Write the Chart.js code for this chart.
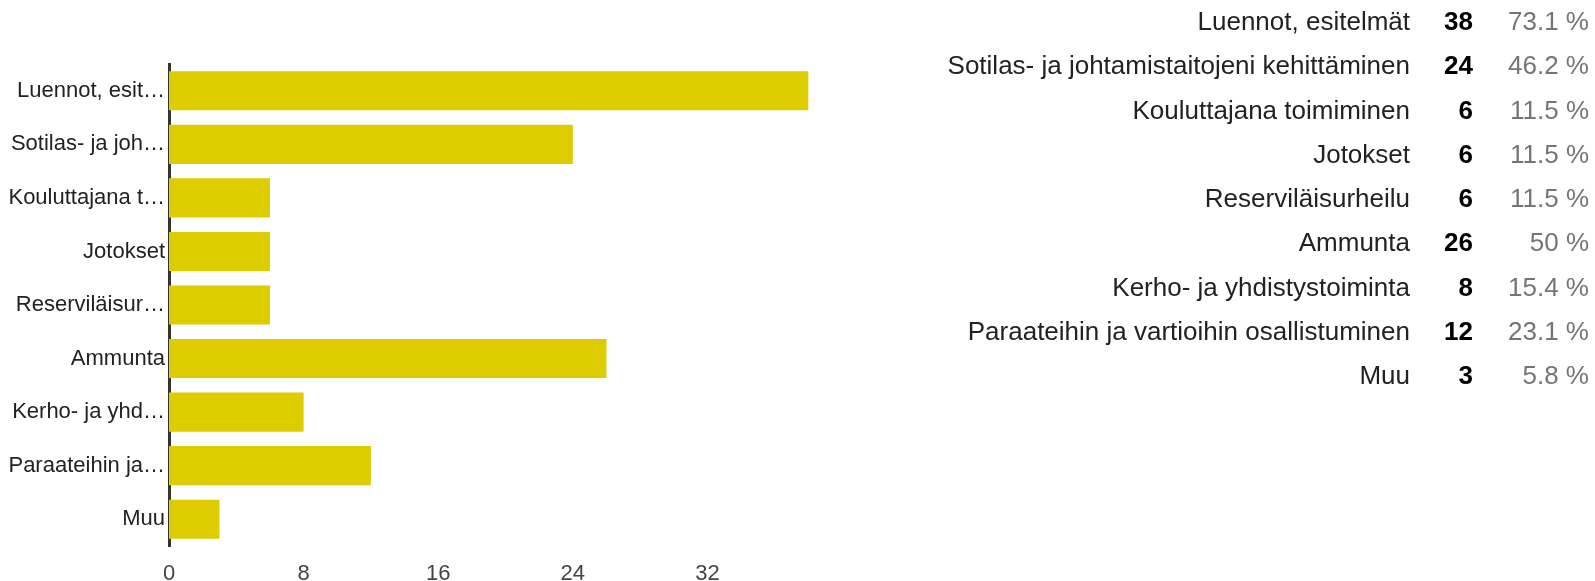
<!DOCTYPE html>
<html>
<head>
<meta charset="utf-8">
<script src="https://cdn.jsdelivr.net/npm/chart.js@4"></script>
<style>
  body { margin: 0; background: #fff; font-family: "Liberation Sans", Arial, sans-serif; overflow: hidden; }
  #wrap { position: absolute; left: 0; top: 0; width: 842px; height: 581px; }
  #taulu { position: absolute; left: 0; top: -1px; width: 1595px; }
  .rivi { position: relative; height: 44.25px; line-height: 44.25px; font-size: 26px; }
  .rivi span { position: absolute; white-space: nowrap; }
  .nimi { right: 185px; color: #222; }
  .lkm { right: 122px; color: #000; font-weight: bold; }
  .pros { right: 6px; color: #757575; }
</style>
</head>
<body>
<div id="wrap"><canvas id="kaavio"></canvas></div>
<div id="taulu"></div>
<script>
// vastaukset
var kategoriat = ["Luennot, esitelmät", "Sotilas- ja johtamistaitojeni kehittäminen", "Kouluttajana toimiminen", "Jotokset", "Reserviläisurheilu", "Ammunta", "Kerho- ja yhdistystoiminta", "Paraateihin ja vartioihin osallistuminen", "Muu"];
var akseliNimet = ["Luennot, esit…", "Sotilas- ja joh…", "Kouluttajana t…", "Jotokset", "Reserviläisur…", "Ammunta", "Kerho- ja yhd…", "Paraateihin ja…", "Muu"];
var maarat = [38, 24, 6, 6, 6, 26, 8, 12, 3];
var prosentit = ["73.1 %", "46.2 %", "11.5 %", "11.5 %", "11.5 %", "50 %", "15.4 %", "23.1 %", "5.8 %"];
var xTikit = [0, 8, 16, 24, 32];

// taulukko oikealla
var taulu = document.getElementById("taulu");
for (var i = 0; i < kategoriat.length; i++) {
	var r = document.createElement("div");
	r.className = "rivi";
	r.innerHTML = '<span class="nimi"></span><span class="lkm"></span><span class="pros"></span>';
	r.children[0].textContent = kategoriat[i];
	r.children[1].textContent = maarat[i];
	r.children[2].textContent = prosentit[i];
	taulu.appendChild(r);
}

var ctx = document.getElementById("kaavio");
var kaavio = new Chart(ctx, {
	type: 'bar',
	data: {
		labels: akseliNimet,
		datasets: [{
			label: "Vastaukset",
			data: maarat,
			backgroundColor: '#dccc00',
			borderWidth: 0,
			categoryPercentage: 1.0,
			barPercentage: 0.73
		}]
	},
	options: {
		indexAxis: 'y',
		responsive: true,
		maintainAspectRatio: false,
		animation: false,
		layout: { padding: { top: 64, left: 0, right: 0, bottom: 0 } },
		plugins: { legend: { display: false }, tooltip: { enabled: false } },
		scales: {
			x: {
				min: 0,
				max: 40,
				grid: { display: false, drawTicks: false },
				border: { display: false },
				afterBuildTicks: function(s) { s.ticks = xTikit.map(function(v) { return { value: v }; }); },
				afterFit: function(s) { s.height = 35; },
				ticks: {
					padding: 15,
					color: '#444',
					font: { family: 'Liberation Sans', size: 22 },
					maxRotation: 0,
					autoSkip: false
				}
			},
			y: {
				grid: { display: false, drawTicks: false },
				border: { display: true, color: '#333', width: 3 },
				afterFit: function(s) { s.width = 169; },
				ticks: {
					padding: 4,
					color: '#222',
					font: { family: 'Liberation Sans', size: 22 }
				}
			}
		}
	}
});
</script>
</body>
</html>
